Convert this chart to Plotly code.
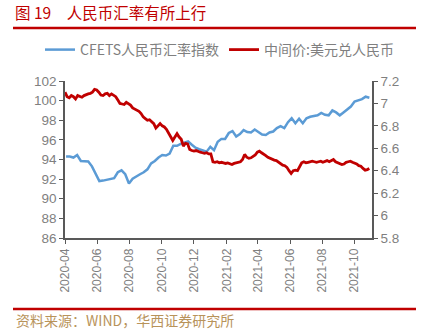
import pandas as pd
import plotly.graph_objects as go

# CFETS RMB index, weekly (Fridays from 2020-04-03)
cfets_start = "2020-04-03"
cfets_values = [
    94.3, 94.3, 94.2, 94.45, 93.85, 93.85, 93.8, 93.3, 92.6, 91.8,
    91.85, 91.95, 92.0, 92.1, 92.7, 92.9, 92.5, 91.55, 92.05, 92.3,
    92.5, 92.7, 93.0, 93.6, 93.85, 94.2, 94.45, 94.4, 94.6, 95.4,
    95.4, 95.6, 95.7, 95.85, 95.5, 95.2, 95.05, 94.9, 94.8, 95.3,
    94.95, 95.8, 96.1, 96.1, 96.7, 96.9, 96.35, 96.6, 97.0, 96.8,
    96.75, 97.05, 96.8, 96.55, 96.5, 96.75, 96.85, 97.2, 97.4, 97.2,
    97.8, 98.2, 97.7, 98.15, 97.7, 98.2, 98.35, 98.4, 98.5, 98.75,
    98.55, 98.5, 99.0, 98.8, 98.5, 98.8, 99.1, 99.4, 99.9, 100.05,
    100.15, 100.4, 100.3,
]

# USD/CNY central parity, sampled every 4 days from 2020-04-01
usdcny_start = "2020-04-01"
usdcny_values = [
    7.10, 7.06, 7.05, 7.07, 7.06, 7.04, 7.07, 7.06, 7.055, 7.07,
    7.08, 7.085, 7.09, 7.10, 7.125, 7.12, 7.10, 7.075, 7.07, 7.085,
    7.09, 7.07, 7.085, 7.075, 7.06, 7.03, 7.00, 6.995, 6.99, 7.01,
    7.00, 6.985, 6.96, 6.95, 6.94, 6.93, 6.91, 6.88, 6.865, 6.85,
    6.855, 6.84, 6.82, 6.78, 6.80, 6.82, 6.80, 6.79, 6.77, 6.74,
    6.70, 6.67, 6.70, 6.73, 6.70, 6.68, 6.62, 6.645, 6.64, 6.59,
    6.58, 6.575, 6.58, 6.57, 6.565, 6.56, 6.555, 6.56, 6.55, 6.55,
    6.48, 6.475, 6.48, 6.47, 6.475, 6.47, 6.465, 6.47, 6.46, 6.455,
    6.465, 6.47, 6.475, 6.48, 6.50, 6.545, 6.52, 6.51, 6.515, 6.53,
    6.54, 6.565, 6.575, 6.56, 6.55, 6.535, 6.52, 6.51, 6.50, 6.495,
    6.49, 6.475, 6.46, 6.45, 6.445, 6.43, 6.40, 6.375, 6.40, 6.405,
    6.40, 6.435, 6.47, 6.48, 6.47, 6.475, 6.48, 6.485, 6.48, 6.475,
    6.48, 6.485, 6.475, 6.48, 6.49, 6.48, 6.49, 6.50, 6.48, 6.47,
    6.465, 6.455, 6.46, 6.475, 6.48, 6.485, 6.475, 6.47, 6.46, 6.445,
    6.44, 6.42, 6.405, 6.41, 6.42,
]

left_ticks = [86, 88, 90, 92, 94, 96, 98, 100, 102]
right_ticks = [5.8, 6.0, 6.2, 6.4, 6.6, 6.8, 7.0, 7.2]
right_labels = ["5.8", "6", "6.2", "6.4", "6.6", "6.8", "7", "7.2"]

series_names = ["CFETS人民币汇率指数", "中间价:美元兑人民币"]
title_text = "图 19　人民币汇率有所上行"
source_text = "资料来源：WIND，华西证券研究所"

cfets_dates = pd.date_range(cfets_start, periods=len(cfets_values), freq="7D")
usdcny_dates = pd.date_range(usdcny_start, periods=len(usdcny_values), freq="4D")

BLUE = "#5b9bd5"
RED = "#c00000"
GRAY = "#7f7f7f"
AXIS = "#595959"
FONT = "Noto Sans CJK SC"

fig = go.Figure()
fig.add_trace(go.Scatter(x=cfets_dates, y=cfets_values, name=series_names[0],
                         mode="lines", line=dict(color=BLUE, width=2.5)))
fig.add_trace(go.Scatter(x=usdcny_dates, y=usdcny_values, name=series_names[1],
                         mode="lines", line=dict(color=RED, width=2.8), yaxis="y2"))

W, H = 424, 332
L, R, T, B = 65, 52, 81, 94
pw, ph = W - L - R, H - T - B


def px(x):
    return (x - L) / pw


def py(y):
    return (H - B - y) / ph


fig.update_layout(
    width=W, height=H,
    margin=dict(l=L, r=R, t=T, b=B, pad=0),
    paper_bgcolor="white", plot_bgcolor="white",
    font=dict(family=FONT, color=GRAY, size=12),
    showlegend=True,
    legend=dict(orientation="h", x=px(40), y=py(50), xanchor="left", yanchor="middle",
                font=dict(size=14, color=GRAY, family=FONT),
                bgcolor="rgba(0,0,0,0)", itemwidth=30, tracegroupgap=0),
    xaxis=dict(
        type="date", range=["2020-04-01", "2021-11-03"],
        tickmode="linear", tick0="2020-04-01", dtick="M2", tickformat="%Y-%m",
        tickangle=-90, ticks="outside", ticklen=4, tickcolor=AXIS,
        showline=True, linecolor=AXIS, linewidth=1.5, showgrid=False, zeroline=False,
        tickfont=dict(size=12, color=GRAY, family="Liberation Sans"),
    ),
    yaxis=dict(
        range=[86, 102], tickvals=left_ticks, ticks="outside", ticklen=4, tickcolor=AXIS,
        showline=True, linecolor=AXIS, linewidth=1.5, showgrid=False, zeroline=False,
        tickfont=dict(size=13.5, color=GRAY, family="Liberation Sans"),
    ),
    yaxis2=dict(
        range=[5.8, 7.2], overlaying="y", side="right",
        tickvals=right_ticks, ticktext=right_labels, ticks="outside", ticklen=4,
        tickcolor=AXIS, showline=True, linecolor=AXIS, linewidth=1.5,
        showgrid=False, zeroline=False,
        tickfont=dict(size=13.5, color=GRAY, family="Liberation Sans"),
    ),
)

fig.add_shape(type="line", xref="paper", yref="paper", x0=px(13), x1=px(416),
              y0=py(28), y1=py(28), line=dict(color=RED, width=2.5))
fig.add_shape(type="line", xref="paper", yref="paper", x0=px(13), x1=px(416),
              y0=py(309), y1=py(309), line=dict(color=RED, width=2.5))

fig.add_annotation(text=title_text, xref="paper", yref="paper", x=px(14), y=py(0),
                   xanchor="left", yanchor="top", showarrow=False, borderpad=0,
                   font=dict(size=15.5, color=RED, family=FONT))
fig.add_annotation(text=source_text, xref="paper", yref="paper", x=px(14), y=py(320),
                   xanchor="left", yanchor="middle", showarrow=False,
                   font=dict(size=14, color="#b8935a", family=FONT))

fig.write_html("out.html")
